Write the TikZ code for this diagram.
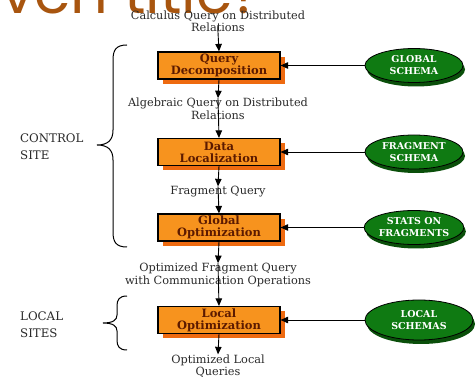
\documentclass[tikz,border=0pt]{standalone}
\usepackage{fontspec}
\setmainfont{DejaVu Serif}
\newfontfamily\titlefont{Poppins}
\usetikzlibrary{arrows.meta,shadows,shapes.geometric}
\definecolor{boxfill}{HTML}{F7931E}
\definecolor{boxshadow}{HTML}{EE6A10}
\definecolor{boxtext}{HTML}{5C1A00}
\definecolor{ellfill}{HTML}{0F7A12}
\definecolor{ellshadow}{HTML}{0A4F0A}
\definecolor{titlecol}{HTML}{A8550F}
\definecolor{txt}{HTML}{2A2A2A}
\begin{document}
\begin{tikzpicture}[x=1pt,y=-1pt,
 lab/.style={font=\fontsize{11.3}{12.5}\selectfont, text=txt, align=center, inner sep=0pt},
 proc/.style={draw=black, line width=1.2pt, fill=boxfill, minimum width=122pt, minimum height=27pt, inner sep=0pt, align=center, font=\fontsize{11.5}{12}\selectfont\bfseries, text=boxtext, drop shadow={shadow xshift=5pt, shadow yshift=-5pt, fill=boxshadow, opacity=1}},
 data/.style={ellipse, draw=black, line width=0.8pt, fill=ellfill, minimum width=98pt, minimum height=34pt, inner sep=0pt, align=center, font=\fontsize{9.5}{12}\selectfont\bfseries, text=white, drop shadow={shadow xshift=2pt, shadow yshift=-4pt, fill=ellshadow, opacity=1}},
 arr/.style={-{Triangle[length=7.5pt,width=6.5pt]}, line width=0.9pt},
 side/.style={font=\fontsize{11.8}{17}\selectfont, text=txt, align=left, inner sep=0pt, anchor=west},
 bracepath/.style={line width=1pt}]

\useasboundingbox (0,0) rectangle (475,377);
\clip (0,0) rectangle (475,377);
\fill[white] (0,0) rectangle (475,377);

\node[font=\titlefont\fontsize{59}{62}\selectfont, text=titlecol, anchor=base east, inner sep=0pt] (title) at (264,14) {iven title?};

% labels
\node[lab] (cq) at (218,21.5) {Calculus Query on Distributed\\Relations};
\node[lab] (aq) at (218,109) {Algebraic Query on Distributed\\Relations};
\node[lab] (fq) at (218,192) {Fragment Query};
\node[lab] (ofq) at (218,275) {Optimized Fragment Query\\with Communication Operations};
\node[lab] (olq) at (218,366) {Optimized Local\\Queries};

% processes
\node[proc] (qd) at (219,65.5) {Query\\Decomposition};
\node[proc] (dl) at (219,152) {Data\\Localization};
\node[proc] (go) at (219,227.5) {Global\\Optimization};
\node[proc] (lo) at (219,320) {Local\\Optimization};

% data
\node[data] (gs) at (414,65.5) {GLOBAL\\SCHEMA};
\node[data] (fs) at (414,152) {FRAGMENT\\SCHEMA};
\node[data] (sf) at (414,227.5) {STATS ON\\FRAGMENTS};
\node[data, minimum width=108pt, minimum height=40pt] (ls) at (419,320) {LOCAL\\SCHEMAS};

% flow
\draw[arr, shorten <=-6pt] (cq.south) -- (qd.north);
\draw[arr] (qd.south) -- (aq.north);
\draw[arr] (aq.north) -- (dl.north);
\draw[arr] (dl.south) -- (fq.north);
\draw[arr] (fq.north) -- (go.north);
\draw[arr] (go.south) -- (ofq.north);
\draw[arr] (ofq.north) -- (lo.north);
\draw[arr] (lo.south) -- (olq.north);

\draw[arr] (gs.west) -- (qd.east);
\draw[arr] (fs.west) -- (dl.east);
\draw[arr] (sf.west) -- (go.east);
\draw[arr] (ls.west) -- (lo.east);

% braces
\draw[bracepath] (127,45) .. controls (116,45) and (113,50) .. (113,60) -- (113,130)
  .. controls (113,140) and (108,145) .. (97,145)
  .. controls (108,145) and (113,150) .. (113,160) -- (113,232)
  .. controls (113,242) and (116,247) .. (127,247);
\draw[bracepath] (127,296) .. controls (119,296) and (117,300) .. (117,306) -- (117,315)
  .. controls (117,320) and (113,323) .. (103,323)
  .. controls (113,323) and (117,326) .. (117,331) -- (117,340)
  .. controls (117,346) and (119,350) .. (127,350);

\node[side] (cs) at (20,146.5) {CONTROL\\SITE};
\node[side] (lsites) at (20,325) {LOCAL\\SITES};
\end{tikzpicture}
\end{document}
